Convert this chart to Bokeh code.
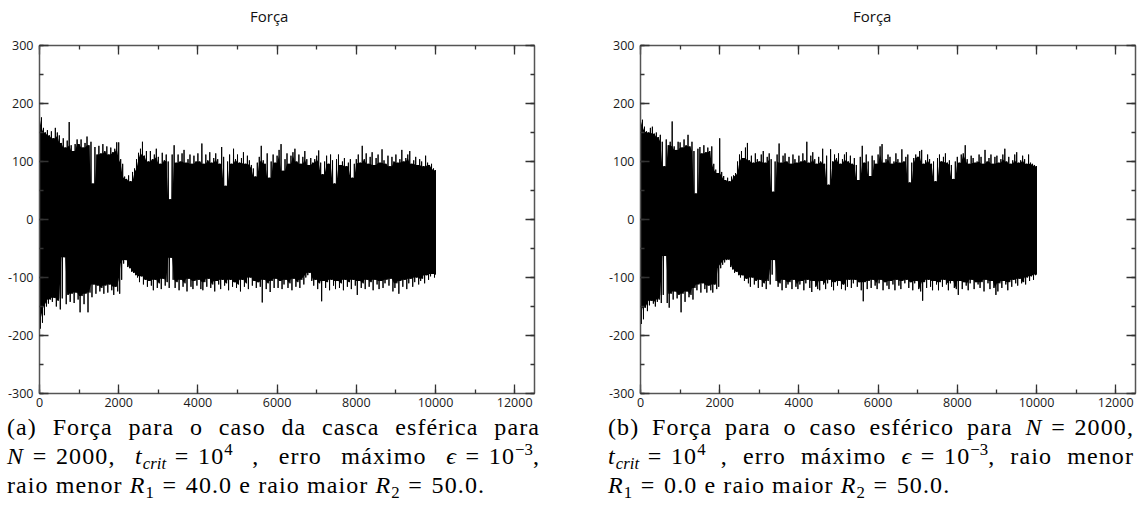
import numpy as np
from bokeh.plotting import figure
from bokeh.models import (Range1d, LinearAxis, SingleIntervalTicker, Div,
                          CustomJSTickFormatter)
from bokeh.layouts import row, column
from bokeh.embed import file_html
from bokeh.resources import INLINE

# ---------------- data (envelope of the force signal) -------------
T_STEP = 50           # time step between envelope samples
T_END = 10000         # last simulated time

# (a) casca esférica : upper / lower envelope, t = 0, 50, ..., 10000 (one row = 500 time units)
upper_a = [195, 176, 158, 150, 154, 145, 152, 140, 158, 150,
           145, 132, 140, 124, 136, 168, 128, 118, 130, 138,
           130, 138, 124, 132, 143, 128, 134, 62, 125, 112,
           127, 114, 130, 118, 126, 112, 124, 116, 122, 133,
           133, 104, 96, 74, 70, 76, 66, 82, 88, 104,
           115, 122, 134, 110, 118, 100, 118, 104, 112, 122,
           108, 96, 115, 102, 112, 100, 35, 112, 128, 98,
           112, 100, 114, 120, 98, 104, 112, 96, 110, 100,
           114, 100, 131, 96, 112, 102, 116, 98, 106, 114,
           104, 96, 125, 108, 58, 100, 112, 96, 122, 104,
           112, 98, 106, 116, 96, 110, 102, 94, 88, 74,
           98, 108, 127, 102, 96, 114, 72, 100, 112, 98,
           110, 120, 130, 84, 104, 114, 96, 110, 116, 122,
           100, 112, 96, 108, 118, 104, 94, 106, 98, 104,
           110, 119, 98, 78, 100, 110, 96, 112, 102, 62,
           104, 112, 94, 100, 106, 92, 98, 104, 72, 96,
           104, 112, 98, 127, 104, 114, 96, 108, 116, 94,
           106, 112, 98, 121, 102, 96, 110, 92, 108, 100,
           112, 98, 104, 120, 100, 106, 112, 118, 96, 102,
           108, 94, 104, 100, 92, 110, 98, 94, 96, 88,
           85]
lower_a = [-188, -178, -165, -150, -145, -138, -142, -135, -150, -140,
           -155, -136, -65, -146, -130, -142, -128, -144, -126, -138,
           -160, -132, -146, -128, -160, -126, -134, -112, -128, -114,
           -124, -118, -128, -114, -126, -112, -122, -130, -116, -124,
           -128, -104, -76, -70, -82, -84, -90, -92, -96, -100,
           -108, -98, -112, -104, -116, -106, -114, -122, -104, -118,
           -110, -120, -102, -114, -108, -118, -66, -104, -118, -108,
           -122, -104, -116, -110, -124, -102, -116, -120, -106, -114,
           -104, -120, -122, -108, -116, -102, -118, -112, -124, -106,
           -112, -120, -104, -114, -110, -122, -104, -116, -108, -118,
           -112, -124, -104, -116, -110, -120, -100, -114, -106, -118,
           -108, -116, -143, -104, -120, -110, -125, -106, -118, -102,
           -118, -106, -120, -112, -104, -118, -110, -122, -102, -116,
           -108, -118, -104, -112, -100, -96, -92, -106, -114, -104,
           -120, -110, -141, -106, -118, -108, -122, -104, -114, -120,
           -106, -118, -110, -122, -104, -116, -108, -120, -104, -114,
           -130, -106, -118, -110, -120, -104, -116, -108, -122, -104,
           -112, -120, -106, -118, -110, -104, -114, -102, -124, -118,
           -110, -128, -106, -116, -104, -120, -110, -102, -116, -108,
           -100, -112, -106, -102, -110, -96, -104, -98, -94, -100,
           -95]

# (b) esfera
upper_b = [185, 172, 160, 152, 150, 158, 160, 148, 150, 142,
           146, 134, 92, 138, 128, 134, 169, 126, 120, 134,
           133, 124, 138, 128, 146, 126, 134, 118, 45, 122,
           125, 114, 128, 116, 124, 118, 126, 96, 86, 80,
           140, 82, 75, 68, 72, 66, 74, 76, 80, 100,
           112, 118, 106, 124, 132, 102, 110, 98, 114, 104,
           100, 112, 118, 98, 108, 114, 104, 48, 100, 112,
           131, 98, 110, 114, 100, 108, 96, 112, 104, 98,
           110, 100, 114, 102, 134, 98, 110, 116, 104, 96,
           108, 100, 122, 96, 110, 60, 121, 100, 112, 106,
           114, 96, 104, 112, 116, 100, 110, 96, 106, 94,
           68, 108, 127, 98, 112, 100, 75, 110, 102, 96,
           112, 126, 130, 98, 104, 112, 108, 96, 100, 114,
           104, 98, 121, 100, 108, 112, 64, 98, 106, 112,
           108, 118, 120, 96, 102, 112, 104, 96, 100, 66,
           106, 112, 100, 108, 114, 98, 102, 94, 70, 100,
           108, 98, 112, 114, 128, 104, 96, 110, 106, 98,
           100, 112, 108, 96, 120, 100, 106, 112, 96, 108,
           110, 98, 104, 112, 122, 100, 108, 96, 102, 112,
           116, 98, 102, 110, 104, 96, 112, 98, 96, 94,
           92]
lower_b = [-180, -172, -152, -158, -148, -140, -145, -150, -142, -138,
           -144, -130, -63, -144, -152, -128, -138, -124, -136, -130,
           -160, -128, -142, -124, -134, -130, -138, -118, -122, -112,
           -126, -110, -120, -126, -114, -122, -126, -112, -120, -116,
           -84, -78, -74, -70, -69, -82, -86, -92, -90, -96,
           -100, -96, -106, -102, -110, -116, -100, -112, -106, -118,
           -104, -116, -110, -120, -106, -112, -95, -70, -106, -116,
           -110, -122, -104, -118, -112, -108, -120, -104, -116, -120,
           -112, -106, -122, -110, -104, -118, -125, -106, -116, -120,
           -122, -106, -112, -120, -110, -104, -116, -122, -108, -114,
           -106, -120, -112, -122, -116, -104, -118, -110, -104, -116,
           -108, -122, -141, -108, -120, -106, -118, -104, -114, -120,
           -110, -104, -122, -108, -114, -120, -106, -112, -122, -104,
           -114, -120, -106, -110, -104, -118, -108, -122, -110, -106,
           -120, -124, -140, -108, -118, -104, -116, -122, -106, -112,
           -122, -108, -116, -104, -112, -122, -110, -106, -118, -120,
           -130, -106, -120, -108, -114, -122, -110, -104, -120, -108,
           -112, -118, -108, -124, -104, -110, -120, -106, -118, -130,
           -124, -110, -118, -106, -112, -122, -108, -116, -104, -110,
           -114, -102, -110, -108, -112, -100, -106, -98, -104, -96,
           -95]

x_range = (0, 12500)
y_range = (-300, 300)
x_tick_interval = 2000
y_tick_interval = 100
title_text = "Força"

caption_a = [
    "(a) Força para o caso da casca esférica para",
    "<i>N</i>{eq}2000, <i>t</i>{crit}{eq}10{p4} , erro máximo <i>&#x03F5;</i>{eq}10{m3},",
    "raio menor <i>R</i>{s1}{eq}40.0 e raio maior <i>R</i>{s2}{eq}50.0.",
]
caption_b = [
    "(b) Força para o caso esférico para <i>N</i>{eq}2000,",
    "<i>t</i>{crit}{eq}10{p4} , erro máximo <i>&#x03F5;</i>{eq}10{m3}, raio menor",
    "<i>R</i>{s1}{eq}0.0 e raio maior <i>R</i>{s2}{eq}50.0.",
]

# ---------------- styling ----------------
SANS = "Open Sans"
FRAME_W = 495
FRAME_H = 348
AX_COLOR = "#555555"


def style_axis(ax, show_labels):
    ax.axis_line_color = AX_COLOR
    ax.axis_line_width = 1.5
    ax.major_tick_line_color = "#333333"
    ax.minor_tick_line_color = "#333333"
    ax.major_tick_line_width = 1.3
    ax.minor_tick_line_width = 1.3
    ax.major_tick_in = 9
    ax.major_tick_out = 0
    ax.minor_tick_in = 4
    ax.minor_tick_out = 0
    if show_labels:
        ax.formatter = CustomJSTickFormatter(code="return String(Math.round(tick))")
        ax.major_label_text_font = SANS
        ax.major_label_text_font_size = "12.5px"
        ax.major_label_text_color = "#1a1a1a"
    else:
        ax.formatter = CustomJSTickFormatter(code="return ''")
        ax.major_label_text_font_size = "0px"
        ax.major_label_standoff = 0


def make_panel(up, lo, min_left, min_right):
    up = np.asarray(up, dtype=float)
    lo = np.asarray(lo, dtype=float)
    t = np.arange(len(up)) * T_STEP

    p = figure(frame_width=FRAME_W, frame_height=FRAME_H,
               min_border_left=min_left, min_border_right=min_right,
               min_border_top=15, min_border_bottom=20,
               x_range=Range1d(*x_range), y_range=Range1d(*y_range),
               x_axis_type=None, y_axis_type=None,
               output_backend="svg", toolbar_location=None, tools="")
    p.grid.visible = False
    p.outline_line_color = None
    p.background_fill_color = "white"
    p.border_fill_color = "white"

    xt = SingleIntervalTicker(interval=x_tick_interval, num_minor_ticks=2)
    yt = SingleIntervalTicker(interval=y_tick_interval, num_minor_ticks=2)
    bx = LinearAxis(ticker=xt)
    ly = LinearAxis(ticker=yt)
    tx = LinearAxis(ticker=xt)
    ry = LinearAxis(ticker=yt)
    style_axis(bx, True)
    style_axis(ly, True)
    style_axis(tx, False)
    style_axis(ry, False)
    bx.major_label_standoff = 4
    ly.major_label_standoff = 6
    p.add_layout(bx, "below")
    p.add_layout(ly, "left")
    p.add_layout(tx, "above")
    p.add_layout(ry, "right")

    # solid core of the oscillation (local minimum of amplitude)
    up_core = np.minimum(np.minimum(up, np.r_[up[0], up[:-1]]), np.r_[up[1:], up[-1]])
    lo_core = np.maximum(np.maximum(lo, np.r_[lo[0], lo[:-1]]), np.r_[lo[1:], lo[-1]])
    p.varea(x=t, y1=lo_core, y2=up_core, fill_color="black", fill_alpha=1.0)

    # oscillating trace: alternate between the upper and lower envelope
    xs = np.empty(2 * len(t))
    ys = np.empty(2 * len(t))
    xs[0::2] = t
    xs[1::2] = np.minimum(t + T_STEP / 2, T_END)
    ys[0::2] = up
    ys[1::2] = lo
    p.line(xs, ys, line_color="black", line_width=1.0)
    return p


def title_div(left, width):
    html = (f'<div style="padding-left:{left}px;padding-top:9px;font-family:\'Open Sans\',sans-serif;'
            f'font-size:15px;line-height:15px;color:#111;white-space:nowrap">{title_text}</div>')
    return Div(text=html, width=width, height=30, margin=(0, 0, 0, 0))


def caption_html(lines, margin_left, width):
    sub_style = "font-size:70%;line-height:0;vertical-align:-0.28em;letter-spacing:0"
    sup_style = "font-size:70%;line-height:0;vertical-align:0.55em;letter-spacing:0"
    rep = {
        "{eq}": '<span style="padding:0 0.36em">=</span>',
        "{crit}": f'<span style="{sub_style}"><i>crit</i></span>',
        "{p4}": f'<span style="{sup_style}">4</span>',
        "{m3}": f'<span style="{sup_style}">&#8722;3</span>',
        "{s1}": f'<span style="{sub_style}">1</span>',
        "{s2}": f'<span style="{sub_style}">2</span>',
    }
    out = []
    for i, ln in enumerate(lines):
        for k, v in rep.items():
            ln = ln.replace(k, v)
        last = i == len(lines) - 1
        align = "text-align:left" if last else "text-align:justify;text-align-last:justify"
        out.append(f'<div style="{align};height:29px;line-height:29px">{ln}</div>')
    return (f'<div style="margin-left:{margin_left}px;width:{width}px;'
            f'font-family:\'Liberation Serif\',serif;font-size:24px;letter-spacing:1.1px;color:#000;">'
            + "".join(out) + "</div>")


p_a = make_panel(upper_a, lower_a, min_left=39, min_right=26)
p_b = make_panel(upper_b, lower_b, min_left=80, min_right=3)

div_a = Div(text=caption_html(caption_a, 7, 533), width=560, height=108, margin=(0, 0, 0, 0))
div_b = Div(text=caption_html(caption_b, 48, 526), width=579, height=108, margin=(0, 0, 0, 0))

layout = row(column(title_div(250, 560), p_a, div_a, spacing=0),
             column(title_div(293, 579), p_b, div_b, spacing=0), spacing=0)

open("out.html", "w").write(file_html(layout, INLINE))
